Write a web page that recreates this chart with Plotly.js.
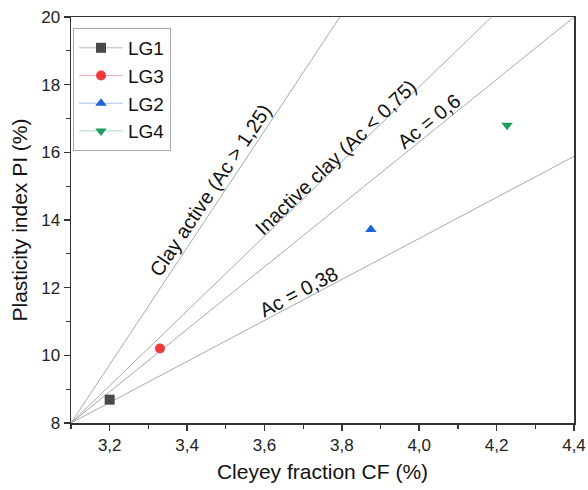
<!DOCTYPE html>
<html><head><meta charset="utf-8">
<script src="https://cdn.plot.ly/plotly-3.0.1.min.js"></script>
<style>body{margin:0;background:#fff}#c{width:588px;height:490px}</style>
</head><body><div id="c"></div>
<script>
// Sample points
const names = ["LG1", "LG3", "LG2", "LG4"];
const cf = [3.2, 3.33, 3.875, 4.227];
const pi = [8.69, 10.2, 13.72, 16.8];
const symbols = ["square", "circle", "triangle-up", "triangle-down"];
const colors = ["#4a4a4a", "#ee3b3b", "#1f63d8", "#1e9e5e"];
const legendLineColors = ["#bbbbbb", "#f4b0b0", "#a8c0ee", "#a8d8bd"];

// Activity reference lines (start and end points)
const refLineX = [[3.1, 3.795], [3.1, 4.187], [3.1, 4.4], [3.1, 4.4]];
const refLineY = [[8, 20], [8, 20], [8, 20.0], [8, 15.88]];

// Line labels
const labelText = ["Clay active (Ac > 1,25)", "Inactive clay (Ac < 0,75)", "Ac = 0,6", "Ac = 0,38"];
const labelX = [3.46, 3.785, 4.026, 3.687];
const labelY = [14.9, 15.85, 16.92, 11.88];
const labelAngle = [-56.3, -43.7, -38.6, -27.7];

const traces = [];
for (let i = 0; i < refLineX.length; i++) {
  traces.push({x: refLineX[i], y: refLineY[i], mode: "lines", showlegend: false,
    hoverinfo: "skip", line: {color: "#a9a9a9", width: 1}});
}
for (let i = 0; i < names.length; i++) {
  traces.push({x: [cf[i]], y: [pi[i]], name: names[i], mode: "lines+markers",
    marker: {symbol: symbols[i], color: colors[i], size: 10},
    line: {color: legendLineColors[i], width: 1}});
}

const font = "Arial, 'Liberation Sans', sans-serif";
const annotations = labelText.map((t, i) => ({
  x: labelX[i], y: labelY[i], xref: "x", yref: "y", text: t, showarrow: false,
  textangle: labelAngle[i], font: {family: font, size: 20, color: "#111"}
}));

const layout = {
  width: 588, height: 490,
  margin: {l: 71, r: 14, t: 17, b: 67},
  paper_bgcolor: "#fff", plot_bgcolor: "#fff",
  separators: ", ",
  font: {family: font, color: "#222"},
  showlegend: true,
  legend: {x: 0.004, y: 0.973, xanchor: "left", yanchor: "top",
    bordercolor: "#aaa", borderwidth: 1, bgcolor: "#fff", itemwidth: 44,
    font: {family: font, size: 19, color: "#111"}, tracegroupgap: 0},
  xaxis: {range: [3.1, 4.4], dtick: 0.2, tick0: 3.2, tickformat: ".1f",
    showgrid: false, zeroline: false, showline: true, linecolor: "#333", linewidth: 1.5,
    mirror: true, ticks: "outside", ticklen: 6, tickwidth: 1.5, tickcolor: "#333",
    ticklabeloverflow: "allow",
    minor: {dtick: 0.1, tick0: 3.1, ticks: "outside", ticklen: 4, tickwidth: 1.2, tickcolor: "#333", showgrid: false},
    tickfont: {size: 17, color: "#222"},
    title: {text: "Cleyey fraction CF (%)", font: {size: 21, color: "#111"}, standoff: 10}},
  yaxis: {range: [8, 20], dtick: 2, tick0: 8,
    showgrid: false, zeroline: false, showline: true, linecolor: "#333", linewidth: 1.5,
    mirror: true, ticks: "outside", ticklen: 6, tickwidth: 1.5, tickcolor: "#333",
    ticklabeloverflow: "allow",
    minor: {dtick: 1, ticks: "outside", ticklen: 4, tickwidth: 1.2, tickcolor: "#333", showgrid: false},
    tickfont: {size: 17, color: "#222"},
    title: {text: "Plasticity index PI (%)", font: {size: 21, color: "#111"}, standoff: 8}},
  annotations: annotations
};
Plotly.newPlot("c", traces, layout, {displayModeBar: false, staticPlot: true});
</script></body></html>
